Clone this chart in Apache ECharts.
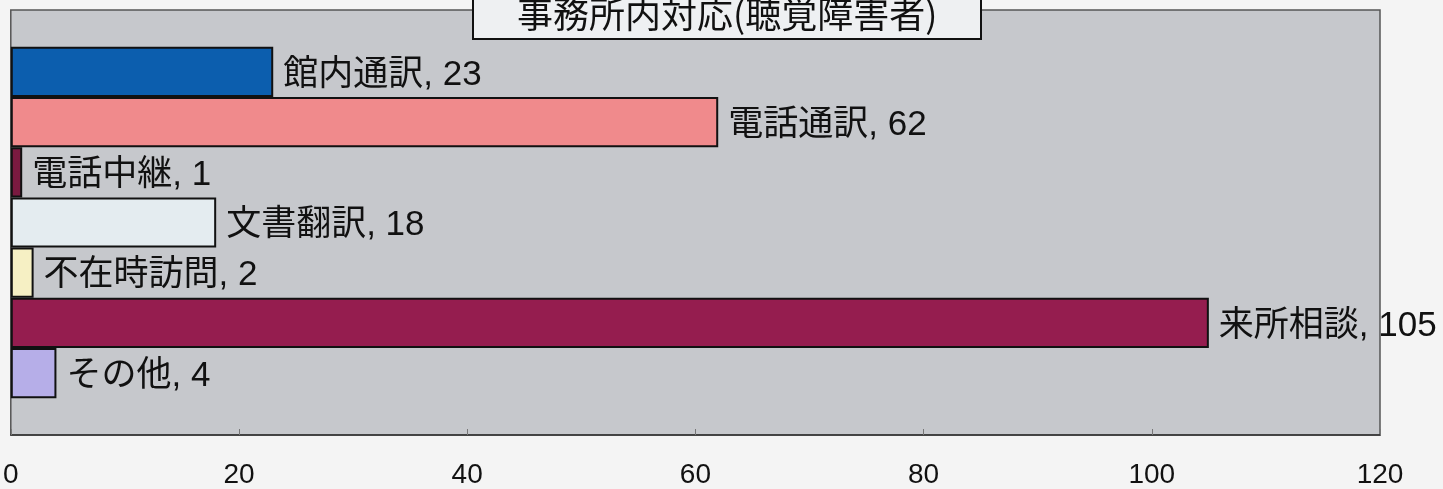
<!DOCTYPE html>
<html>
<head>
<meta charset="utf-8">
<script src="https://cdn.jsdelivr.net/npm/echarts@6/dist/echarts.min.js"></script>
<style>
html,body{margin:0;padding:0;background:#f4f4f4;}
#c{width:1443px;height:489px;}
</style>
</head>
<body>
<div id="c"></div>
<script>
const chartTitle = '事務所内対応(聴覚障害者)';
const categories = ['館内通訳', '電話通訳', '電話中継', '文書翻訳', '不在時訪問', '来所相談', 'その他'];
const values = [23, 62, 1, 18, 2, 105, 4];
const axisMin = 0, axisMax = 120, axisStep = 20;

const colors = ['#0c5eae', '#f08a8c', '#7a1a40', '#e4ecf0', '#f6f0c4', '#951d4f', '#b6aee8'];

const chart = echarts.init(document.getElementById('c'), null, {renderer: 'canvas'});
const series = categories.map((name, i) => ({
  name: name,
  type: 'bar',
  data: [values[i]],
  barGap: '0%',
  barCategoryGap: '17.3%',
  itemStyle: {color: colors[i], borderColor: '#111', borderWidth: 2},
  label: {
    show: true,
    position: 'right',
    distance: 10,
    offset: [0, 3],
    formatter: '{a}, {c}',
    fontSize: 35,
    color: '#111',
    fontFamily: '"Liberation Sans", "Noto Sans CJK JP", sans-serif'
  },
  animation: false
}));

chart.setOption({
  backgroundColor: '#f4f4f4',
  animation: false,
  title: {
    text: chartTitle,
    left: 473,
    top: -16,
    padding: [10, 44, 5, 44],
    backgroundColor: '#eef0f2',
    borderColor: '#111',
    borderWidth: 2,
    textStyle: {fontSize: 36, fontWeight: 'normal', color: '#111', lineHeight: 40,
      fontFamily: '"Noto Sans CJK JP", sans-serif'}
  },
  grid: {
    left: 10, right: 63, top: 10, bottom: 52,
    show: true,
    backgroundColor: '#c6c8cc',
    borderColor: '#555',
    borderWidth: 1.5,
    containLabel: false
  },
  xAxis: {
    type: 'value',
    min: axisMin, max: axisMax, interval: axisStep,
    axisLine: {show: true, lineStyle: {color: '#333', width: 1.5}},
    axisTick: {show: true, inside: true, length: 6, lineStyle: {color: '#777'}},
    splitLine: {show: false},
    axisLabel: {fontSize: 28, color: '#111', margin: 26,
      fontFamily: '"Liberation Sans", Arial, sans-serif'}
  },
  yAxis: {
    type: 'category',
    data: [''],
    inverse: true,
    axisLine: {show: false},
    axisTick: {show: false},
    axisLabel: {show: false}
  },
  series: series
});
</script>
</body>
</html>
